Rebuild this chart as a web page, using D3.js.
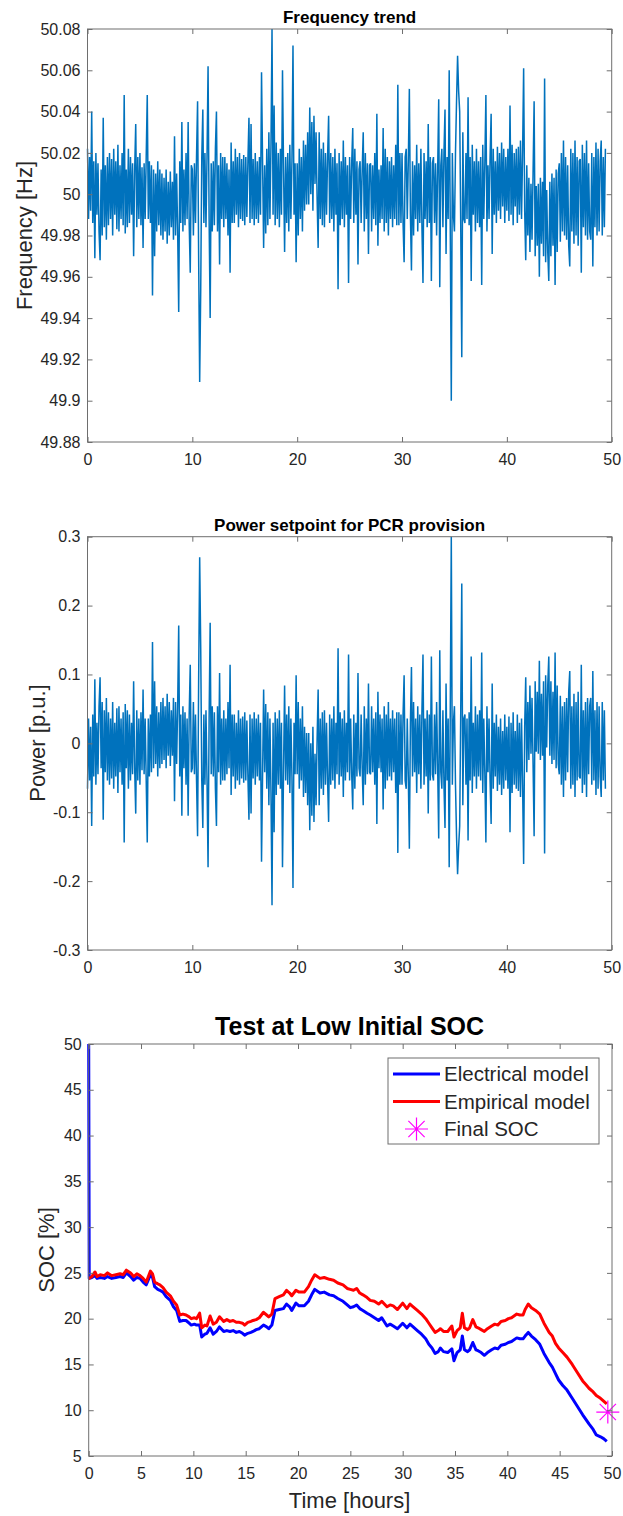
<!DOCTYPE html>
<html>
<head>
<meta charset="utf-8">
<script src="https://cdn.jsdelivr.net/npm/d3@7"></script>
<style>
  body { margin: 0; background: #fff; }
  svg text { font-family: "Liberation Sans", Arial, Helvetica, sans-serif; }
</style>
</head>
<body>
<script>
const WIDTH = 623
const HEIGHT = 1516

// grid frequency, deviation from 50 Hz in mHz, one sample every 0.1 h (one row per hour)
const SAMPLE_H = 0.1
const NOMINAL_HZ = 50
const freqDev = [
  22, -12, 18, -8, 40, -14, 16, -31, 20, -10,
  15, -18, -32, 12, -20, 37, -16, 14, -22, 18,
  -15, 20, -12, 17, -20, 22, -10, 16, -17, 24,
  -18, 14, -12, 20, -15, 48, -19, 12, -16, 22,
  -14, 18, -10, 15, -30, 12, 34, -16, 18, -12,
  20, -15, 13, -26, 15, -12, 18, 48, -12, 16,
  -14, 14, -49, 12, -30, 10, -18, 16, -15, 12,
  -20, 10, -22, 8, -18, 12, -24, 6, -20, 11,
  -16, 6, -22, 28, -20, 10, -18, -57, 16, -14,
  35, -18, 12, -15, 20, -12, 35, -14, -38, 14,
  12, -20, 15, -14, 18, 45, -30, -91, -46, 18,
  41, -14, 20, -16, 18, 62, -12, -60, 15, -18,
  16, -15, 22, 40, -18, 14, -34, 20, -12, 18,
  -16, 18, -12, 15, -20, 12, -38, 25, -14, 16,
  -14, 22, -10, 18, -16, 20, -12, 17, -13, 19,
  -15, 18, -11, 16, 37, -14, 34, -12, 17, -15,
  20, -12, 16, -14, 18, -10, 59, 15, -26, 14,
  -19, 22, -15, 30, -12, 24, 80, -10, 43, -15,
  25, -12, 20, -16, 22, -10, 60, 12, -28, 18,
  -14, 20, -18, 24, -12, 16, 72, -10, 15, -33,
  15, -20, 22, -12, 18, -18, 26, -8, 24, -5,
  30, -5, 42, 0, 35, -8, 38, 5, 30, -2,
  -26, 30, -12, 22, -15, 25, -16, 20, -10, 18,
  38, -14, 20, -12, 18, -18, 22, -10, 15, -46,
  20, -15, 16, -12, 26, -16, 18, -10, 14, -43,
  18, -12, 15, 32, -14, 22, -10, 16, -34, 12,
  16, -14, 12, 30, -18, 20, -12, 15, -29, 14,
  15, -18, 14, -12, 20, -15, 39, -25, 12, -14,
  14, -12, 32, -18, 22, -14, 18, -20, 16, -12,
  18, -16, 14, -12, 24, -15, 53, -15, 20, -14,
  20, -14, -33, 18, 22, -12, 16, 51, -10, -37,
  16, -20, 14, -12, 24, -18, 15, -14, 22, -16,
  -43, 20, -12, 16, -16, 34, -14, 18, -42, 15,
  18, -14, 15, -20, 12, 46, -45, 14, 22, -16,
  20, 41, -29, 18, -12, 60, -14, -100, 20, -10,
  -18, 20, 45, 67, 50, 40, -15, -79, 30, -12,
  -14, 20, -12, 47, -15, 18, -42, 24, -10, 16,
  -18, 22, -14, 16, -16, 18, -44, 24, -12, 15,
  48, -18, 14, -12, 18, 39, -29, 22, -10, 16,
  -14, 23, -8, 20, -12, 25, -6, 22, -14, 18,
  -8, 22, -13, 43, -10, 24, -15, 20, -6, 22,
  -14, 23, -10, 26, -12, 20, 61, -8, -32, 14,
  -20, 8, -28, 5, -22, 10, 45, -30, 4, -25,
  5, -40, 8, -24, 6, -30, 56, -33, 2, -28,
  -42, 6, -30, 10, -25, 8, -44, 12, -28, 10,
  15, -23, 20, -18, 26, -20, 18, -22, 14, -25,
  -35, 22, -18, 20, -24, 26, -20, 18, -25, 16,
  17, -38, 24, -16, 20, -20, 26, -22, 15, -18,
  -22, 20, -35, 18, -16, 25, -20, 22, -18, 16,
  26, -20, 18, -16, 22
]

// PCR power setpoint [p.u.], same 0.1 h sampling
const powerSetpoint = [
  -0.066, 0.036, -0.054, 0.024, -0.12, 0.042, -0.048, 0.093, -0.06, 0.03,
  -0.045, 0.054, 0.096, -0.036, 0.06, -0.111, 0.048, -0.042, 0.066, -0.054,
  0.045, -0.06, 0.036, -0.051, 0.06, -0.066, 0.03, -0.048, 0.051, -0.072,
  0.054, -0.042, 0.036, -0.06, 0.045, -0.144, 0.057, -0.036, 0.048, -0.066,
  0.042, -0.054, 0.03, -0.045, 0.09, -0.036, -0.102, 0.048, -0.054, 0.036,
  -0.06, 0.045, -0.039, 0.078, -0.045, 0.036, -0.054, -0.144, 0.036, -0.048,
  0.042, -0.042, 0.147, -0.036, 0.09, -0.03, 0.054, -0.048, 0.045, -0.036,
  0.06, -0.03, 0.066, -0.024, 0.054, -0.036, 0.072, -0.018, 0.06, -0.033,
  0.048, -0.018, 0.066, -0.084, 0.06, -0.03, 0.054, 0.171, -0.048, 0.042,
  -0.105, 0.054, -0.036, 0.045, -0.06, 0.036, -0.105, 0.042, 0.114, -0.042,
  -0.036, 0.06, -0.045, 0.042, -0.054, -0.135, 0.09, 0.27, 0.138, -0.054,
  -0.123, 0.042, -0.06, 0.048, -0.054, -0.18, 0.036, 0.175, -0.045, 0.054,
  -0.048, 0.045, -0.066, -0.12, 0.054, -0.042, 0.102, -0.06, 0.036, -0.054,
  0.048, -0.054, 0.036, -0.045, 0.06, -0.036, 0.114, -0.075, 0.042, -0.048,
  0.042, -0.066, 0.03, -0.054, 0.048, -0.06, 0.036, -0.051, 0.039, -0.057,
  0.045, -0.054, 0.033, -0.048, -0.111, 0.042, -0.102, 0.036, -0.051, 0.045,
  -0.06, 0.036, -0.048, 0.042, -0.054, 0.03, -0.172, -0.045, 0.078, -0.042,
  0.057, -0.066, 0.045, -0.09, 0.036, -0.072, -0.235, 0.03, -0.129, 0.045,
  -0.075, 0.036, -0.06, 0.048, -0.066, 0.03, -0.18, -0.036, 0.084, -0.054,
  0.042, -0.06, 0.054, -0.072, 0.036, -0.048, -0.21, 0.03, -0.045, 0.099,
  -0.045, 0.06, -0.066, 0.036, -0.054, 0.054, -0.078, 0.024, -0.072, 0.015,
  -0.09, 0.015, -0.126, 0, -0.105, 0.024, -0.114, -0.015, -0.09, 0.006,
  0.078, -0.09, 0.036, -0.066, 0.045, -0.075, 0.048, -0.06, 0.03, -0.054,
  -0.114, 0.042, -0.06, 0.036, -0.054, 0.054, -0.066, 0.03, -0.045, 0.138,
  -0.06, 0.045, -0.048, 0.036, -0.078, 0.048, -0.054, 0.03, -0.042, 0.129,
  -0.054, 0.036, -0.045, -0.096, 0.042, -0.066, 0.03, -0.048, 0.102, -0.036,
  -0.048, 0.042, -0.036, -0.09, 0.054, -0.06, 0.036, -0.045, 0.087, -0.042,
  -0.045, 0.054, -0.042, 0.036, -0.06, 0.045, -0.117, 0.075, -0.036, 0.042,
  -0.042, 0.036, -0.096, 0.054, -0.066, 0.042, -0.054, 0.06, -0.048, 0.036,
  -0.054, 0.048, -0.042, 0.036, -0.072, 0.045, -0.159, 0.045, -0.06, 0.042,
  -0.06, 0.042, 0.099, -0.054, -0.066, 0.036, -0.048, -0.153, 0.03, 0.111,
  -0.048, 0.06, -0.042, 0.036, -0.072, 0.054, -0.045, 0.042, -0.066, 0.048,
  0.129, -0.06, 0.036, -0.048, 0.048, -0.102, 0.042, -0.054, 0.126, -0.045,
  -0.054, 0.042, -0.045, 0.06, -0.036, -0.138, 0.135, -0.042, -0.066, 0.048,
  -0.06, -0.123, 0.087, -0.054, 0.036, -0.18, 0.042, 0.3, -0.06, 0.03,
  0.054, -0.06, -0.135, -0.19, -0.15, -0.12, 0.045, 0.232, -0.09, 0.036,
  0.042, -0.06, 0.036, -0.141, 0.045, -0.054, 0.126, -0.072, 0.03, -0.048,
  0.054, -0.066, 0.042, -0.048, 0.048, -0.054, 0.132, -0.072, 0.036, -0.045,
  -0.144, 0.054, -0.042, 0.036, -0.054, -0.117, 0.087, -0.066, 0.03, -0.048,
  0.042, -0.069, 0.024, -0.06, 0.036, -0.075, 0.018, -0.066, 0.042, -0.054,
  0.024, -0.066, 0.039, -0.129, 0.03, -0.072, 0.045, -0.06, 0.018, -0.066,
  0.042, -0.069, 0.03, -0.078, 0.036, -0.06, -0.175, 0.024, 0.096, -0.042,
  0.06, -0.024, 0.084, -0.015, 0.066, -0.03, -0.135, 0.09, -0.012, 0.075,
  -0.015, 0.12, -0.024, 0.072, -0.018, 0.09, -0.16, 0.099, -0.006, 0.084,
  0.126, -0.018, 0.09, -0.03, 0.075, -0.024, 0.132, -0.036, 0.084, -0.03,
  -0.045, 0.069, -0.06, 0.054, -0.078, 0.06, -0.054, 0.066, -0.042, 0.075,
  0.105, -0.066, 0.054, -0.06, 0.072, -0.078, 0.06, -0.054, 0.075, -0.048,
  -0.051, 0.114, -0.072, 0.048, -0.06, 0.06, -0.078, 0.066, -0.045, 0.054,
  0.066, -0.06, 0.105, -0.054, 0.048, -0.075, 0.06, -0.066, 0.054, -0.048,
  -0.078, 0.06, -0.054, 0.048, -0.066
]

// SOC test at low initial SOC [hours, %]
const socTime = [
  0, 0.05, 0.3, 0.6, 0.8, 1.1, 1.5, 1.8, 2.2, 2.6, 3.0, 3.3, 3.6, 4.0, 4.3, 4.6, 4.9,
  5.2, 5.5, 5.9, 6.1, 6.3, 6.6, 6.8, 7.1, 7.4, 7.8, 8.1, 8.4, 8.7, 9.0, 9.3, 9.6, 9.8,
  10.1, 10.3, 10.6, 10.8, 11.1, 11.3, 11.6, 11.9, 12.2, 12.5, 12.9, 13.2, 13.5, 13.8,
  14.1, 14.4, 14.7, 14.9, 15.2, 15.5, 15.7, 16.0, 16.3, 16.7, 17.0, 17.2, 17.5, 17.8,
  18.2, 18.6, 18.9, 19.2, 19.4, 19.8, 20.1, 20.6, 21.0, 21.3, 21.6, 22.1, 22.5, 23.0,
  23.4, 23.8, 24.3, 24.7, 25.0, 25.3, 25.6, 25.9, 26.2, 26.6, 26.9, 27.3, 27.7, 28.0,
  28.5, 28.8, 29.1, 29.5, 30.0, 30.4, 30.7, 31.0, 31.4, 31.8, 32.2, 32.5, 32.8, 33.1,
  33.4, 33.6, 33.9, 34.3, 34.7, 34.9, 35.2, 35.5, 35.7, 35.9, 36.2, 36.4, 36.7, 37.0,
  37.2, 37.5, 37.8, 38.1, 38.5, 38.8, 39.1, 39.4, 39.8, 40.1, 40.4, 40.9, 41.2, 41.5,
  41.7, 42.0, 42.3, 42.7, 43.1, 43.5, 44.0, 44.3, 44.6, 44.9, 45.3, 45.7, 46.2, 46.7,
  47.2, 47.5, 47.8, 48.2, 48.5, 48.9, 49.2, 49.5
]
const socElectrical = [
  50, 24.4, 24.5, 24.7, 24.4, 24.5, 24.4, 24.6, 24.4, 24.5, 24.6, 24.5, 25.0, 24.6, 24.2, 24.5, 24.4,
  24.0, 23.7, 24.8, 24.5, 23.5, 23.2, 23.1, 22.9, 22.4, 22.0, 21.3, 20.9, 19.7, 19.8, 19.8, 19.5, 19.3,
  19.4, 19.3, 19.3, 18.0, 18.3, 18.4, 19.0, 18.3, 18.6, 19.1, 18.6, 18.7, 18.6, 18.7,
  18.5, 18.6, 18.4, 18.2, 18.4, 18.5, 18.6, 18.8, 18.9, 19.3, 19.1, 18.9, 19.3, 20.9,
  21.0, 21.1, 21.6, 21.3, 20.9, 21.7, 21.4, 21.4, 21.9, 22.6, 23.2, 22.8, 22.9, 22.6,
  22.5, 22.2, 21.9, 21.5, 21.2, 21.3, 21.5, 21.1, 20.9, 20.6, 20.4, 20.1, 19.8, 20.1,
  19.2, 19.4, 19.2, 18.9, 19.5, 19.0, 19.4, 19.1, 18.7, 18.3, 17.8, 17.2, 16.8, 16.2,
  16.4, 16.8, 16.4, 16.3, 16.7, 15.4, 16.3, 16.6, 18.1, 16.6, 16.4, 16.6, 17.4, 16.6,
  16.5, 16.3, 16.0, 16.3, 16.6, 16.8, 16.7, 17.1, 17.2, 17.4, 17.5, 17.9, 17.8, 17.8,
  18.1, 18.5, 18.1, 17.7, 17.2, 16.2, 15.2, 14.7, 14.0, 13.3, 12.7, 12.2, 11.3, 10.4,
  9.5, 9.0, 8.5, 7.9, 7.3, 7.1, 6.9, 6.6
]
const socEmpirical = [
  24.4, 24.4, 24.6, 25.1, 24.6, 24.8, 24.7, 25.0, 24.7, 24.8, 24.9, 24.8, 25.3, 25.0, 24.6, 24.9, 24.7,
  24.4, 24.0, 25.2, 24.9, 24.0, 23.8, 23.7, 23.4, 22.9, 22.5, 21.9, 21.5, 20.4, 20.5, 20.4, 20.2, 20.0,
  20.1, 20.0, 20.6, 19.0, 19.3, 19.2, 20.3, 19.4, 19.6, 20.2, 19.7, 19.9, 19.7, 19.8,
  19.6, 19.6, 19.5, 19.3, 19.6, 19.7, 19.8, 19.9, 20.1, 20.7, 20.4, 20.2, 20.5, 22.2,
  22.4, 22.6, 23.1, 22.8, 22.5, 23.1, 22.9, 22.9, 23.5, 24.2, 24.8, 24.4, 24.5, 24.3,
  24.2, 23.9, 23.7, 23.3, 23.2, 23.1, 23.3, 22.8, 22.6, 22.3, 22.0, 21.9, 21.6, 21.9,
  21.3, 21.5, 21.4, 21.0, 21.7, 21.1, 21.6, 21.3, 20.9, 20.5, 20.0, 19.5, 19.0, 18.5,
  18.7, 18.9, 18.6, 18.6, 19.2, 18.0, 18.7, 19.0, 20.6, 19.0, 18.8, 19.0, 19.9, 19.1,
  19.0, 18.8, 18.6, 18.9, 19.2, 19.4, 19.3, 19.7, 19.8, 20.0, 20.1, 20.5, 20.4, 20.4,
  21.0, 21.6, 21.2, 20.9, 20.5, 19.5, 18.5, 18.1, 17.3, 16.8, 16.3, 15.8, 15.0, 14.1,
  13.2, 12.8, 12.4, 12.0, 11.6, 11.3, 11.0, 10.7
]
const finalSoc = { time: 49.6, soc: 9.8 }

const freqTicks = [49.88, 49.9, 49.92, 49.94, 49.96, 49.98, 50, 50.02, 50.04, 50.06, 50.08]
const powerTicks = [-0.3, -0.2, -0.1, 0, 0.1, 0.2, 0.3]
const socTicks = [5, 10, 15, 20, 25, 30, 35, 40, 45, 50]
const hourTicks10 = [0, 10, 20, 30, 40, 50]
const hourTicks5 = [0, 5, 10, 15, 20, 25, 30, 35, 40, 45, 50]

const TEXT = '#262626'
const AXIS = '#6e6e6e'
const MATLAB_BLUE = '#0072bd'

const svg = d3.select('body').append('svg')
  .attr('width', WIDTH)
  .attr('height', HEIGHT)

function drawAxes(g, x, y, xTicks, yTicks, yFormat) {
  const [x0, x1] = x.range()
  const [yb, yt] = y.range()

  g.append('rect')
    .attr('x', x0).attr('y', yt)
    .attr('width', x1 - x0).attr('height', yb - yt)
    .attr('fill', 'none')
    .attr('stroke', AXIS)
    .attr('stroke-width', 1)

  const style = a => {
    a.select('.domain').remove()
    a.selectAll('line').attr('stroke', AXIS)
    a.attr('font-family', null).attr('font-size', 16)
    a.selectAll('text').attr('fill', TEXT)
  }

  g.append('g').attr('transform', `translate(0,${yb})`)
    .call(d3.axisBottom(x).tickValues(xTicks).tickSizeInner(-5).tickSizeOuter(0).tickPadding(12).tickFormat(d3.format('d')))
    .call(style)
  g.append('g').attr('transform', `translate(0,${yt})`)
    .call(d3.axisTop(x).tickValues(xTicks).tickSizeInner(-5).tickSizeOuter(0).tickFormat(''))
    .call(style)
  g.append('g').attr('transform', `translate(${x0},0)`)
    .call(d3.axisLeft(y).tickValues(yTicks).tickSizeInner(-5).tickSizeOuter(0).tickPadding(7).tickFormat(yFormat))
    .call(style)
  g.append('g').attr('transform', `translate(${x1},0)`)
    .call(d3.axisRight(y).tickValues(yTicks).tickSizeInner(-5).tickSizeOuter(0).tickFormat(''))
    .call(style)
}

function title(text, x, y, size) {
  svg.append('text')
    .attr('x', x).attr('y', y)
    .attr('text-anchor', 'middle')
    .attr('font-weight', 'bold')
    .attr('font-size', size)
    .attr('fill', '#000')
    .text(text)
}

function yLabel(text, x, y, size) {
  svg.append('text')
    .attr('transform', `translate(${x},${y}) rotate(-90)`)
    .attr('text-anchor', 'middle')
    .attr('dy', '0.35em')
    .attr('font-size', size)
    .attr('fill', TEXT)
    .text(text)
}

const fmt = digits => d => String(+d.toFixed(digits))

// dense noisy traces: slightly heavier stroke so the band reads solid like the original
const NOISE_STROKE = 1.5

// --- Frequency trend
{
  const x = d3.scaleLinear().domain([0, 50]).range([87.5, 611.7])
  const y = d3.scaleLinear().domain([49.88, 50.08]).range([442, 29])
  const g = svg.append('g')

  g.append('path')
    .datum(freqDev)
    .attr('fill', 'none')
    .attr('stroke', MATLAB_BLUE)
    .attr('stroke-width', NOISE_STROKE)
    .attr('stroke-linejoin', 'bevel')
    .attr('d', d3.line()
      .x((d, i) => x(i * SAMPLE_H))
      .y(d => y(NOMINAL_HZ + d / 1000)))

  drawAxes(g, x, y, hourTicks10, freqTicks, fmt(2))
  title('Frequency trend', 349.6, 23, 17)
  yLabel('Frequency [Hz]', 24, 235.5, 22)
}

// --- Power setpoint
{
  const x = d3.scaleLinear().domain([0, 50]).range([87.5, 611.7])
  const y = d3.scaleLinear().domain([-0.3, 0.3]).range([950, 536.7])
  const g = svg.append('g')

  g.append('path')
    .datum(powerSetpoint)
    .attr('fill', 'none')
    .attr('stroke', MATLAB_BLUE)
    .attr('stroke-width', NOISE_STROKE)
    .attr('stroke-linejoin', 'bevel')
    .attr('d', d3.line()
      .x((d, i) => x(i * SAMPLE_H))
      .y(d => y(d)))

  drawAxes(g, x, y, hourTicks10, powerTicks, fmt(1))
  title('Power setpoint for PCR provision', 349.6, 531, 17)
  yLabel('Power [p.u.]', 37, 743, 22)
}

// --- SOC test
{
  const x = d3.scaleLinear().domain([0, 50]).range([88.7, 612])
  const y = d3.scaleLinear().domain([5, 50]).range([1456, 1044])
  const g = svg.append('g')

  const series = [
    { name: 'Electrical model', values: socElectrical, color: '#0000ff' },
    { name: 'Empirical model', values: socEmpirical, color: '#ff0000' }
  ]

  series.forEach(s => {
    g.append('path')
      .datum(s.values)
      .attr('fill', 'none')
      .attr('stroke', s.color)
      .attr('stroke-width', 3)
      .attr('stroke-linejoin', 'round')
      .attr('d', d3.line()
        .x((d, i) => x(socTime[i]))
        .y(d => y(d)))
  })

  const star = r => `M${-r},0H${r}M0,${-r}V${r}` +
    `M${-r * 0.707},${-r * 0.707}L${r * 0.707},${r * 0.707}` +
    `M${-r * 0.707},${r * 0.707}L${r * 0.707},${-r * 0.707}`

  g.append('path')
    .attr('transform', `translate(${x(finalSoc.time)},${y(finalSoc.soc)})`)
    .attr('d', star(11.5))
    .attr('stroke', '#ff00ff')
    .attr('stroke-width', 1.2)
    .attr('fill', 'none')

  drawAxes(g, x, y, hourTicks5, socTicks, fmt(0))
  title('Test at Low Initial SOC', 349.6, 1035, 25)
  yLabel('SOC [%]', 46, 1250, 22)

  svg.append('text')
    .attr('x', 349.6).attr('y', 1508)
    .attr('text-anchor', 'middle')
    .attr('font-size', 22)
    .attr('fill', TEXT)
    .text('Time [hours]')

  // legend
  const legend = svg.append('g').attr('transform', 'translate(388,1058)')
  legend.append('rect')
    .attr('width', 211).attr('height', 86)
    .attr('fill', '#fff')
    .attr('stroke', AXIS)
    .attr('stroke-width', 1)

  const rows = [...series, { name: 'Final SOC', marker: true }]
  rows.forEach((r, i) => {
    const cy = 16 + i * 27.5
    if (r.marker) {
      legend.append('path')
        .attr('transform', `translate(28.5,${cy})`)
        .attr('d', star(11.5))
        .attr('stroke', '#ff00ff')
        .attr('stroke-width', 1.2)
        .attr('fill', 'none')
    } else {
      legend.append('line')
        .attr('x1', 5).attr('x2', 52)
        .attr('y1', cy).attr('y2', cy)
        .attr('stroke', r.color)
        .attr('stroke-width', 3)
    }
    legend.append('text')
      .attr('x', 56).attr('y', cy)
      .attr('dy', '0.35em')
      .attr('font-size', 20.5)
      .attr('fill', TEXT)
      .text(r.name)
  })
}
</script>
</body>
</html>
